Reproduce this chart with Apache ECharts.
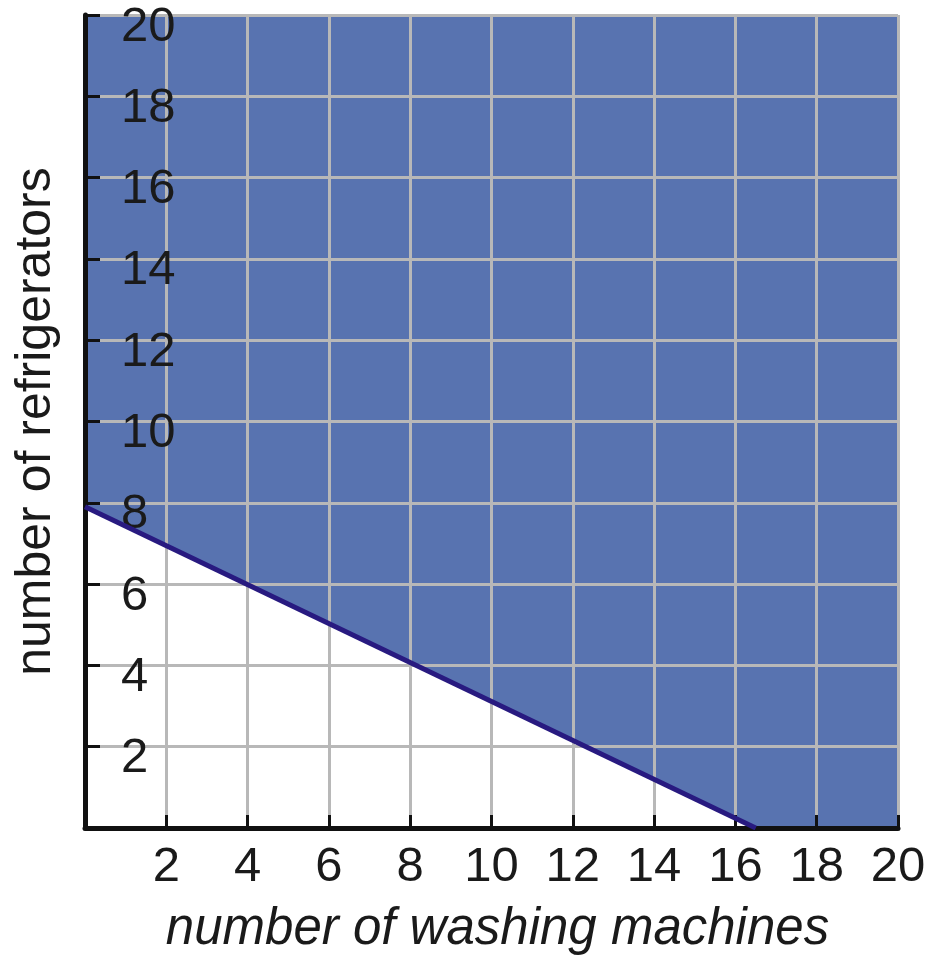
<!DOCTYPE html>
<html>
<head>
<meta charset="utf-8">
<script src="https://cdn.jsdelivr.net/npm/echarts@6/dist/echarts.min.js"></script>
<style>
html,body{margin:0;padding:0;background:#fff;}
#chart{width:937px;height:955px;}
</style>
</head>
<body>
<div id="chart"></div>
<script>
// Data
var xTitle = 'number of washing machines';
var yTitle = 'number of refrigerators';
var axisMin = 0, axisMax = 20, axisStep = 2;
// shaded region boundary (region above is shaded)
var regionX = [0, 16.5, 20];
var regionY = [7.9, 0, 0];
// boundary line
var lineX = [0, 16.5];
var lineY = [7.9, 0];

function zip(a, b) { return a.map(function (v, i) { return [v, b[i]]; }); }

var FONT = 'Liberation Sans, Arial, sans-serif';
var chart = echarts.init(document.getElementById('chart'));
chart.setOption({
  animation: false,
  backgroundColor: '#ffffff',
  grid: { left: 85, right: 39, top: 15, bottom: 127, containLabel: false, outerBoundsMode: 'none' },
  xAxis: {
    type: 'value', min: axisMin, max: axisMax, interval: axisStep, z: 3,
    name: xTitle, nameLocation: 'middle', nameGap: 76,
    nameTextStyle: { fontSize: 51, fontStyle: 'italic', color: '#1a1a1a', fontFamily: FONT, padding: [0, 0, 0, 12] },
    axisLine: { show: true, onZero: false, lineStyle: { color: '#111', width: 5 } },
    axisTick: { show: true, inside: true, length: 13, lineStyle: { color: '#111', width: 3 } },
    axisLabel: { show: true, showMinLabel: false, margin: 15, fontSize: 49, color: '#1a1a1a', fontFamily: FONT,
      formatter: function (v) { return v === 0 ? '' : String(v); } },
    splitLine: { show: true, lineStyle: { color: '#b8b8b8', width: 3 } }
  },
  yAxis: {
    type: 'value', min: axisMin, max: axisMax, interval: axisStep, z: 3,
    name: yTitle, nameLocation: 'middle', nameGap: 24,
    nameTextStyle: { fontSize: 50, color: '#1a1a1a', fontFamily: FONT },
    axisLine: { show: true, onZero: false, lineStyle: { color: '#111', width: 5 } },
    axisTick: { show: true, inside: true, length: 15, lineStyle: { color: '#111', width: 3 } },
    axisLabel: { show: true, inside: true, showMinLabel: false, margin: 36, fontSize: 49, color: '#1a1a1a', fontFamily: FONT,
      verticalAlign: 'top', lineHeight: 24,
      formatter: function (v) { return v === 0 ? '' : String(v); } },
    splitLine: { show: true, lineStyle: { color: '#b8b8b8', width: 3 } }
  },
  series: [
    {
      type: 'line', data: zip(regionX, regionY), symbol: 'none', z: 1,
      lineStyle: { width: 0, opacity: 0 },
      areaStyle: { color: '#5873b0', opacity: 1, origin: 'end' },
      silent: true
    },
    {
      type: 'line', data: zip(lineX, lineY), symbol: 'none', z: 5,
      lineStyle: { color: '#281a80', width: 5 },
      silent: true
    }
  ]
});
</script>
</body>
</html>
